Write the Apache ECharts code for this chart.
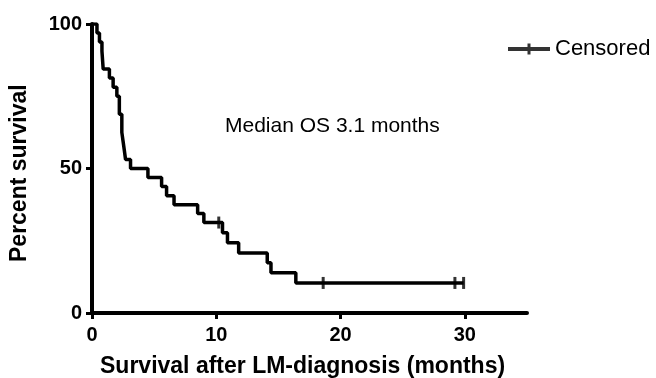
<!DOCTYPE html>
<html>
<head>
<meta charset="utf-8">
<script src="https://cdn.jsdelivr.net/npm/echarts@6/dist/echarts.min.js"></script>
<style>
  html, body { margin: 0; padding: 0; background: #fff; }
  #chart { width: 656px; height: 378px; }
</style>
</head>
<body>
<div id="chart"></div>
<script>
  // Kaplan-Meier steps: month of event, percent surviving after it
  const eventMonths = [0, 0.4, 0.6, 0.8, 0.9, 1.4, 1.7, 2.0, 2.2, 2.4, 2.5, 2.6, 2.7, 3.1, 4.5, 5.6, 6.0, 6.6, 8.5, 9.0, 10.5, 10.9, 11.8, 14.1, 14.4, 16.4, 29.9];
  const survivalPct = [100, 96.9, 93.8, 90.6, 84.4, 81.3, 78.1, 75.0, 68.8, 62.5, 59.4, 56.3, 53.1, 50.0, 46.9, 43.8, 40.6, 37.5, 34.4, 31.3, 27.8, 24.3, 20.8, 17.4, 13.9, 10.4, 10.4];
  // censored patients
  const censorMonths = [10.2, 18.6, 29.2, 29.9];
  const censorPct = [31.3, 10.4, 10.4, 10.4];
  const xTicks = [0, 10, 20, 30];
  const yTicks = [0, 50, 100];

  let myChart = echarts.init(document.getElementById('chart'));
  let curve = eventMonths.map((m, i) => [m, survivalPct[i]]);
  let censored = censorMonths.map((m, i) => [m, censorPct[i]]);
  let font = 'Liberation Sans, Arial, sans-serif';

  myChart.setOption({
    animation: false,
    backgroundColor: '#fff',
    grid: {
      left: 92,
      top: 24,
      right: 129,
      bottom: 65
    },
    legend: {
      left: 503,
      top: 33,
      itemWidth: 42,
      itemHeight: 11,
      textStyle: {
        color: '#000',
        fontSize: 22,
        fontFamily: font
      },
      data: [{
        name: 'Censored',
        icon: 'path://M0,3.5 L42,3.5 L42,7.5 L0,7.5 Z M19.5,0 L22.5,0 L22.5,11 L19.5,11 Z'
      }]
    },
    xAxis: {
      type: 'value',
      min: 0,
      max: 35,
      interval: 10,
      splitLine: { show: false },
      axisLine: { lineStyle: { color: '#000', width: 4 } },
      axisTick: {
        customValues: xTicks,
        length: 6,
        lineStyle: { color: '#000', width: 3 }
      },
      axisLabel: {
        customValues: xTicks,
        margin: 12,
        color: '#000',
        fontSize: 20,
        fontWeight: 'bold',
        fontFamily: font
      }
    },
    yAxis: {
      type: 'value',
      min: 0,
      max: 100,
      interval: 50,
      splitLine: { show: false },
      axisLine: { show: true, lineStyle: { color: '#000', width: 4 } },
      axisTick: {
        show: true,
        customValues: yTicks,
        length: 6,
        lineStyle: { color: '#000', width: 3 }
      },
      axisLabel: {
        customValues: yTicks,
        margin: 10,
        color: '#000',
        fontSize: 20,
        fontWeight: 'bold',
        fontFamily: font
      }
    },
    graphic: [
      {
        type: 'text',
        left: 225,
        top: 116,
        style: {
          text: 'Median OS 3.1 months',
          fill: '#000',
          fontSize: 21,
          fontFamily: font
        }
      },
      {
        type: 'text',
        left: 100,
        top: 355,
        style: {
          text: 'Survival after LM-diagnosis (months)',
          fill: '#000',
          fontSize: 23,
          fontWeight: 'bold',
          fontFamily: font
        }
      },
      {
        type: 'text',
        x: 8,
        y: 262,
        rotation: Math.PI / 2,
        style: {
          text: 'Percent survival',
          fill: '#000',
          fontSize: 23,
          fontWeight: 'bold',
          fontFamily: font
        }
      }
    ],
    series: [
      {
        name: 'Survival',
        type: 'line',
        step: 'end',
        data: curve,
        symbol: 'none',
        lineStyle: { color: '#000', width: 3.5 }
      },
      {
        name: 'Censored',
        type: 'scatter',
        data: censored,
        symbol: 'rect',
        symbolSize: [3, 12],
        itemStyle: { color: '#000' }
      }
    ]
  });
</script>
</body>
</html>
